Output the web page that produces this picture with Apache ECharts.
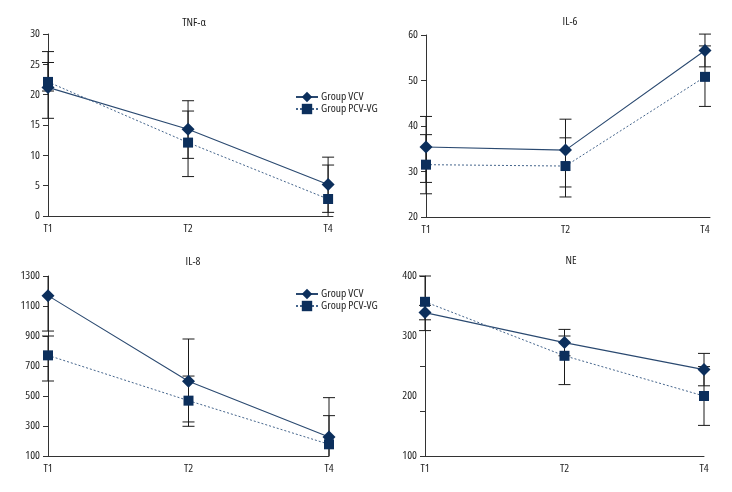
<!DOCTYPE html>
<html>
<head>
<meta charset="utf-8">
<script src="https://cdn.jsdelivr.net/npm/echarts@6/dist/echarts.min.js"></script>
<style>
html,body{margin:0;padding:0;background:#fff;}
#c{width:732px;height:492px;}
</style>
</head>
<body>
<div id="c"></div>
<script>
const categories = ['T1', 'T2', 'T4'];
const seriesNames = ['Group VCV', 'Group PCV-VG'];
const panelTitles = ['TNF-α', 'IL-6', 'IL-8', 'NE'];

// TNF-α
const tnfVCV = [21.2, 14.3, 5.2];
const tnfVCVLow = [16.1, 9.5, 0.6];
const tnfVCVHigh = [27.1, 19.0, 9.7];
const tnfPCV = [22.1, 12.1, 2.8];
const tnfPCVLow = [20.6, 6.5, -2.8];
const tnfPCVHigh = [25.3, 17.3, 8.4];

// IL-6
const il6VCV = [35.4, 34.7, 56.6];
const il6VCVLow = [27.6, 26.6, 53.0];
const il6VCVHigh = [42.1, 41.5, 60.2];
const il6PCV = [31.5, 31.2, 50.8];
const il6PCVLow = [25.1, 24.4, 44.3];
const il6PCVHigh = [38.1, 37.4, 57.6];

// IL-8
const il8VCV = [1169, 598, 227];
const il8VCVLow = [933, 327, -35];
const il8VCVHigh = [1405, 880, 489];
const il8PCV = [771, 469, 178];
const il8PCVLow = [600, 298, -13];
const il8PCVHigh = [900, 633, 369];

// NE
const neVCV = [339, 289, 244];
const neVCVLow = [327, 267, 217];
const neVCVHigh = [351, 311, 271];
const nePCV = [357, 267, 200];
const nePCVLow = [309, 219, 151];
const nePCVHigh = [400, 300, 249];

// y axis ticks
const tnfTicks = { min: 0, max: 30, interval: 5 };
const il6Ticks = { min: 20, max: 60, interval: 10 };
const il8Ticks = { min: 100, max: 1300, interval: 200 };
const neTicks = { min: 100, max: 400, interval: 100 };
const neTickMarks = [100, 175, 250, 400];

const FAMILY = "'Open Sans', 'Roboto', sans-serif";
const STRETCH = 'condensed';
const FSIZE = 11.5;
const MARK = '#0c2f5c';
const AXIS = '#333333';
const TEXT = '#1e1e1e';

const panels = [
  { title: panelTitles[0], vcv: [tnfVCV, tnfVCVLow, tnfVCVHigh], pcv: [tnfPCV, tnfPCVLow, tnfPCVHigh], y: tnfTicks,
    grid: { left: 48, top: 34, width: 285, height: 182 }, xMax: 2.035, titleAt: [194, 23] },
  { title: panelTitles[1], vcv: [il6VCV, il6VCVLow, il6VCVHigh], pcv: [il6PCV, il6PCVLow, il6PCVHigh], y: il6Ticks,
    grid: { left: 426, top: 35, width: 284, height: 182 }, xMax: 2.036, titleAt: [570, 22] },
  { title: panelTitles[2], vcv: [il8VCV, il8VCVLow, il8VCVHigh], pcv: [il8PCV, il8PCVLow, il8PCVHigh], y: il8Ticks,
    grid: { left: 48, top: 276, width: 281, height: 180 }, xMax: 2.0, titleAt: [193, 262] },
  { title: panelTitles[3], vcv: [neVCV, neVCVLow, neVCVHigh], pcv: [nePCV, nePCVLow, nePCVHigh], y: neTicks, tickMarks: neTickMarks,
    grid: { left: 425, top: 276, width: 279, height: 180 }, xMax: 2.0, titleAt: [571, 261] }
];

const grid = [], xAxis = [], yAxis = [], series = [], graphic = [];

function errRender(ymin, ymax) {
  const tol = (ymax - ymin) * 0.01;
  return function (params, api) {
    const x = api.value(0);
    let lo = api.value(1), hi = api.value(2);
    const loClamped = lo < ymin - tol, hiClamped = hi > ymax + tol;
    if (loClamped) lo = ymin;
    if (hiClamped) hi = ymax;
    const a = api.coord([x, lo]);
    const b = api.coord([x, hi]);
    const hw = 6;
    const st = { stroke: '#1a1a1a', lineWidth: 1 };
    const ch = [{ type: 'line', shape: { x1: a[0], y1: a[1], x2: b[0], y2: b[1] }, style: st }];
    if (!loClamped) ch.push({ type: 'line', shape: { x1: a[0] - hw, y1: a[1], x2: a[0] + hw, y2: a[1] }, style: st });
    if (!hiClamped) ch.push({ type: 'line', shape: { x1: b[0] - hw, y1: b[1], x2: b[0] + hw, y2: b[1] }, style: st });
    return { type: 'group', children: ch };
  };
}

const labelFont = { color: TEXT, fontSize: FSIZE, fontFamily: FAMILY, fontWeight: STRETCH };

panels.forEach((p, i) => {
  grid.push(Object.assign({ containLabel: false }, p.grid));
  xAxis.push({
    type: 'value', gridIndex: i, min: 0, max: p.xMax, interval: 1,
    axisLine: { show: true, onZero: false, lineStyle: { color: AXIS, width: 1 } },
    axisTick: { show: false },
    splitLine: { show: false },
    axisLabel: Object.assign({
      margin: 7,
      formatter: v => (Number.isInteger(v) && categories[v] !== undefined) ? categories[v] : ''
    }, labelFont)
  });
  const yTick = { show: true, inside: false, length: 5, lineStyle: { color: AXIS, width: 1 } };
  if (p.tickMarks) yTick.customValues = p.tickMarks;
  yAxis.push({
    type: 'value', gridIndex: i, min: p.y.min, max: p.y.max, interval: p.y.interval,
    axisLine: { show: true, onZero: false, lineStyle: { color: AXIS, width: 1 } },
    axisTick: yTick,
    splitLine: { show: false },
    axisLabel: Object.assign({ margin: 8, formatter: v => String(v) }, labelFont)
  });
  [p.vcv, p.pcv].forEach(arr => {
    series.push({
      type: 'custom', xAxisIndex: i, yAxisIndex: i, z: 1, silent: true,
      renderItem: errRender(p.y.min, p.y.max),
      data: arr[0].map((v, j) => [j, arr[1][j], arr[2][j]])
    });
  });
  series.push({
    name: seriesNames[0], type: 'line', xAxisIndex: i, yAxisIndex: i, z: 3,
    symbol: 'diamond', symbolSize: 13,
    itemStyle: { color: MARK },
    lineStyle: { color: '#2a4970', width: 1.1, type: 'solid' },
    data: p.vcv[0].map((v, j) => [j, v])
  });
  series.push({
    name: seriesNames[1], type: 'line', xAxisIndex: i, yAxisIndex: i, z: 4,
    symbol: 'rect', symbolSize: 10,
    itemStyle: { color: MARK },
    lineStyle: { color: '#45658c', width: 1, type: [2, 2] },
    data: p.pcv[0].map((v, j) => [j, v])
  });
  graphic.push({
    type: 'text', x: p.titleAt[0], y: p.titleAt[1],
    style: { text: p.title, fill: TEXT, font: STRETCH + ' ' + FSIZE + 'px ' + FAMILY, textAlign: 'center', textVerticalAlign: 'middle' }
  });
});

const legendBase = {
  orient: 'vertical', itemWidth: 22, itemHeight: 13, itemGap: 0,
  data: seriesNames,
  textStyle: Object.assign({ lineHeight: 12, padding: [0, 0, 0, -2] }, labelFont),
  padding: 0, selectedMode: false
};

const option = {
  animation: false,
  backgroundColor: '#fff',
  grid, xAxis, yAxis, series, graphic,
  legend: [
    Object.assign({}, legendBase, { left: 295, top: 91 }),
    Object.assign({}, legendBase, { left: 295, top: 288 })
  ]
};

const chart = echarts.init(document.getElementById('c'));
chart.setOption(option);
</script>
</body>
</html>
